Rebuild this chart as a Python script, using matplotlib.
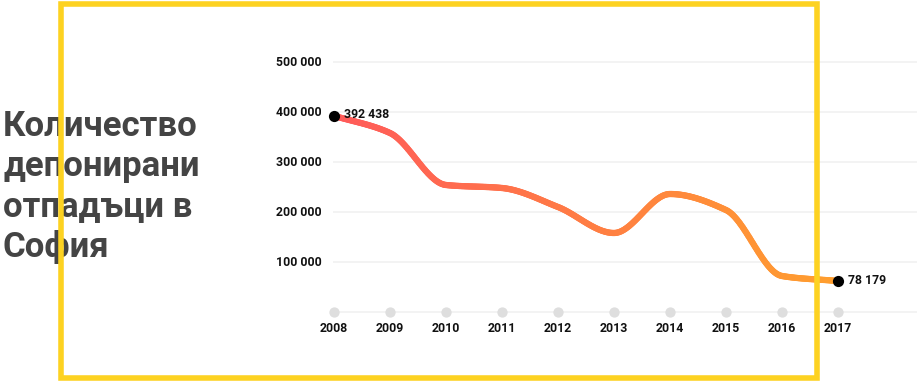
import numpy as np
import matplotlib
matplotlib.use("Agg")
from matplotlib import pyplot as plt
from matplotlib.collections import LineCollection
from matplotlib.colors import LinearSegmentedColormap
from matplotlib.patches import Rectangle

# данни
years = [2008, 2009, 2010, 2011, 2012, 2013, 2014, 2015, 2016, 2017]
tons = [392438, 358000, 254000, 248000, 210000, 158000, 236000, 204000, 72000, 62000]
end_labels = ["392 438", "78 179"]
ytick_vals = [100000, 200000, 300000, 400000, 500000]
ytick_text = ["100 000", "200 000", "300 000", "400 000", "500 000"]
title = "Количество\nдепонирани\nотпадъци в\nСофия"

plt.rcParams['font.family'] = ['Roboto', 'DejaVu Sans']


# монотонна кубична интерполация само за гладкото изчертаване на линията
def smooth(x, y, n=40):
    x = np.asarray(x, float)
    y = np.asarray(y, float)
    h = np.diff(x)
    d = np.diff(y) / h
    m = np.zeros_like(y)
    m[0], m[-1] = d[0], d[-1]
    for i in range(1, len(y) - 1):
        if d[i - 1] * d[i] <= 0:
            m[i] = 0
        else:
            m[i] = 2 / (1 / d[i - 1] + 1 / d[i])
    xs, ys = [], []
    for i in range(len(x) - 1):
        t = np.linspace(0, 1, n, endpoint=False)
        h00 = 2 * t**3 - 3 * t**2 + 1
        h10 = t**3 - 2 * t**2 + t
        h01 = -2 * t**3 + 3 * t**2
        h11 = t**3 - t**2
        xs.append(x[i] + t * h[i])
        ys.append(h00 * y[i] + h10 * h[i] * m[i] + h01 * y[i + 1] + h11 * h[i] * m[i + 1])
    xs.append([x[-1]])
    ys.append([y[-1]])
    return np.concatenate(xs), np.concatenate(ys)


fig = plt.figure(figsize=(9.17, 3.82), dpi=100)
W, H = 917, 382
ax = fig.add_axes([0, 0, 1, 1])

x0, px = 2008, 56.0
ax.set_xlim(x0 - 334 / px, x0 + (W - 334) / px)
# y: 0 at 312px, 50px per 100000
ax.set_ylim(-(H - 312) * 2000, 312 * 2000)
ax.axis("off")

ax.hlines([0] + ytick_vals, x0 - 1 / px, x0 + (W - 334) / px,
          color="#f1f1f1", lw=1.2, zorder=0)
for v, t in zip(ytick_vals, ytick_text):
    ax.text(x0 - 12 / px, v, t, ha="right", va="center", fontsize=8.8,
            fontweight="bold", color="#111111")

ax.scatter(years, [0] * len(years), s=55, color="#dedede", zorder=2, linewidths=0)
for yr in years:
    ax.text(yr, -17 * 2000, str(yr), ha="center", va="center", fontsize=8.8,
            fontweight="bold", color="#111111")

xs, ys = smooth(years, tons)
pts = np.array([xs, ys]).T.reshape(-1, 1, 2)
segs = np.concatenate([pts[:-1], pts[1:]], axis=1)
cmap = LinearSegmentedColormap.from_list("g", ["#ff5a5a", "#ff9f2e"])
lc = LineCollection(segs, cmap=cmap, linewidths=4.5, capstyle="round", zorder=3)
lc.set_array((xs[:-1] - years[0]) / (years[-1] - years[0]))
lc.set_clim(0, 1)
ax.add_collection(lc)

ends_x = [years[0], years[-1]]
ends_y = [tons[0], tons[-1]]
ax.scatter(ends_x, ends_y, s=65, color="black", zorder=4, linewidths=0)
for ex, ey, lab in zip(ends_x, ends_y, end_labels):
    ax.text(ex + 10 / px, ey + 2000, lab, ha="left", va="center", fontsize=8.8,
            fontweight="bold", color="#111111", zorder=5)

fig.text(3 / W, 1 - 110 / H, title, ha="left", va="top", fontsize=25,
         fontweight="bold", color="#444444", linespacing=1.26)

fig.patches.append(Rectangle((61 / W, 4 / H), (817 - 61) / W, (378 - 4) / H,
                             transform=fig.transFigure, fill=False,
                             edgecolor="#fdd221", linewidth=4, zorder=10))

fig.savefig("out.png", dpi=100)
